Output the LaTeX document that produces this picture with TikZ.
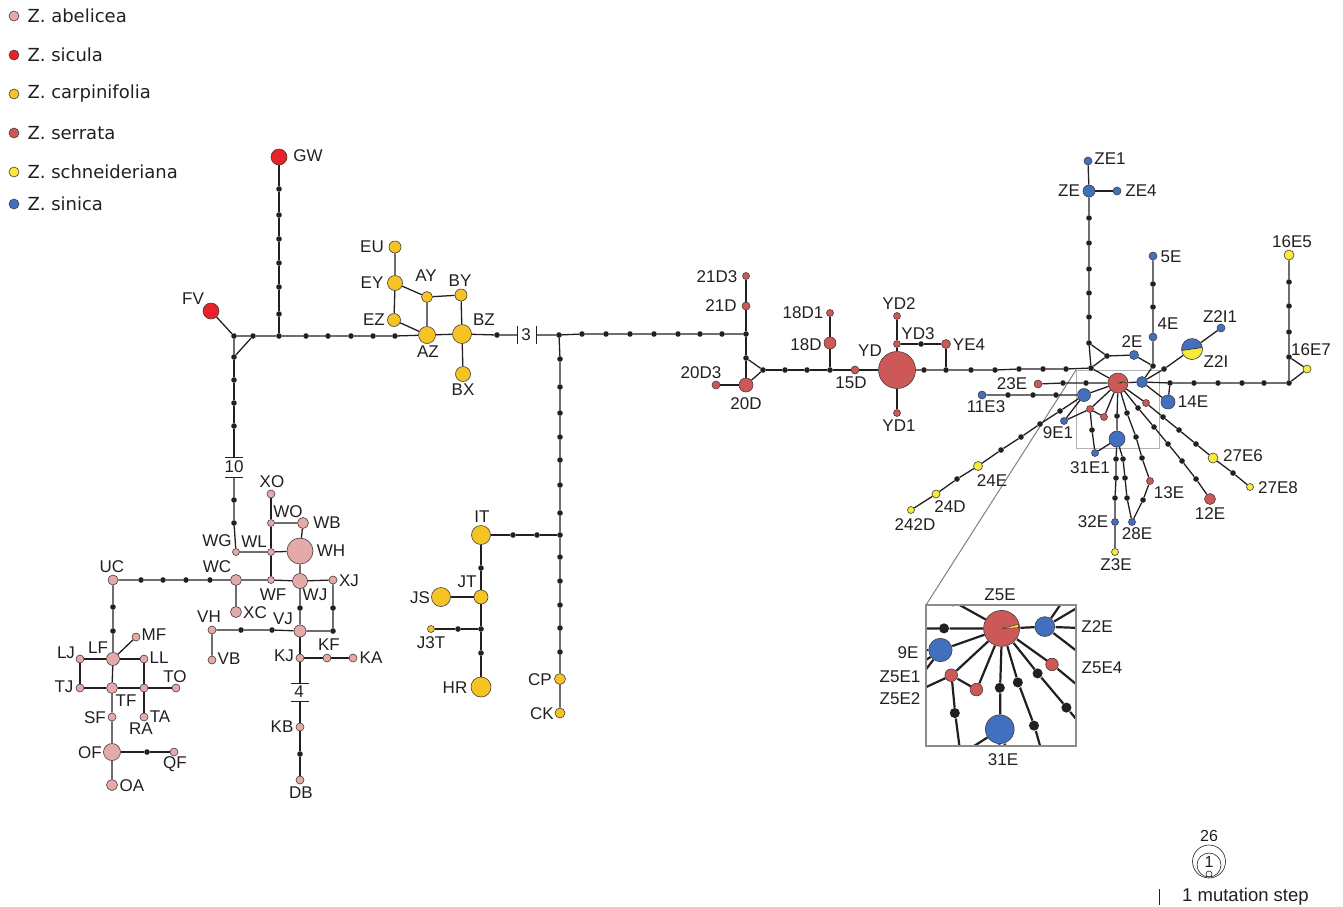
\documentclass[tikz,border=0pt]{standalone}
\usepackage{fontspec}
\setmainfont{Liberation Sans}
\newfontfamily\legendfont{DejaVu Sans}
\usetikzlibrary{positioning}

\definecolor{cabel}{RGB}{228,170,170}
\definecolor{csic}{RGB}{232,34,40}
\definecolor{ccarp}{RGB}{244,196,36}
\definecolor{cserr}{RGB}{205,88,88}
\definecolor{cschn}{RGB}{246,234,58}
\definecolor{csin}{RGB}{66,112,192}
\definecolor{linec}{RGB}{35,31,32}
\definecolor{bordc}{RGB}{70,60,60}

% star of Z. sinica / serrata haplotypes round Z5E (drawn twice: plain and in the zoom box)
\newcommand{\sinicastar}{%
  % knots above the star
  \node[mv] (q0) at (1091,368) {};
  \node[mv] (q1) at (1089,343) {};
  \node[mv] (q2) at (1107,356) {};
  \node[mv] (q3) at (1153,366) {};
  % ZE branch
  \node[mv] (z1) at (1089,317) {};
  \node[mv] (z2) at (1089,293) {};
  \node[mv] (z3) at (1089,269) {};
  \node[mv] (z4) at (1089,243) {};
  \node[mv] (z5) at (1089,218) {};
  \node[bl=12] (ZE) at (1089,191) {};
  \node[bl=8] (ZE1) at (1088,161) {};
  \node[bl=8] (ZE4) at (1117,191) {};
  % 2E, 4E, 5E
  \node[bl=9] (2E) at (1134,355) {};
  \node[bl=8] (4E) at (1153,337) {};
  \node[mv] (e1) at (1153,307) {};
  \node[mv] (e2) at (1153,284) {};
  \node[bl=8] (5E) at (1153,256) {};
  % centre
  \node[sr=20] (Z5E) at (1118,383) {};
  \node[bl=11] (Z2E) at (1142,382) {};
  \node[mv] (s1) at (1164,369) {};
  \node[hap=21, fill=csin, path picture={
      \fill[cschn] ([yshift=-1.5pt]path picture bounding box.west) -- ([yshift=1.5pt]path picture bounding box.east)
        -- (path picture bounding box.south east) -- (path picture bounding box.south west) -- cycle;
      \draw[linec, line width=0.6pt] ([yshift=-1.5pt]path picture bounding box.west) -- ([yshift=1.5pt]path picture bounding box.east);}] (Z2I) at (1192,349) {};
  \node[bl=8] (Z2I1) at (1221,328) {};
  % 14E and 16E
  \node[mv] (s2) at (1170,383) {};
  \node[bl=14] (14E) at (1168,402) {};
  \node[mv] (s3) at (1194,383) {};
  \node[mv] (s4) at (1218,383) {};
  \node[mv] (s5) at (1242,383) {};
  \node[mv] (s6) at (1264,383) {};
  \node[mv] (s7) at (1289,383) {};
  \node[mv] (s8) at (1289,357) {};
  \node[sc=8] (16E7) at (1307,369) {};
  \node[mv] (s9) at (1289,332) {};
  \node[mv] (s10) at (1289,306) {};
  \node[mv] (s11) at (1289,282) {};
  \node[sc=10] (16E5) at (1289,255) {};
  % 23E and 11E3
  \node[mv] (t1) at (1086,383) {};
  \node[mv] (t2) at (1063,383) {};
  \node[sr=8] (23E) at (1038,384) {};
  \node[bl=13] (9E) at (1084,395) {};
  \node[mv] (u1) at (1056,395) {};
  \node[mv] (u2) at (1033,395) {};
  \node[mv] (u3) at (1008,395) {};
  \node[bl=8] (11E3) at (982,395) {};
  \node[bl=7] (9E1) at (1064,421) {};
  % 24E branch
  \node[mv] (w1) at (1060,411) {};
  \node[mv] (w2) at (1040,424) {};
  \node[mv] (w3) at (1021,437) {};
  \node[mv] (w4) at (1001,450) {};
  \node[sc=9] (24E) at (978,466) {};
  \node[mv] (w5) at (957,479) {};
  \node[sc=8] (24D) at (936,494) {};
  \node[sc=7] (242D) at (911,510) {};
  % below the centre
  \node[sr=7] (Z5E1) at (1090,409) {};
  \node[sr=7] (Z5E2) at (1104,417) {};
  \node[mv] (x1) at (1092,430) {};
  \node[bl=7] (31E1) at (1095,453) {};
  \node[mv] (x2) at (1117,416) {};
  \node[bl=16] (31E) at (1117,439) {};
  \node[mv] (y1) at (1116,459) {};
  \node[mv] (y2) at (1116,478) {};
  \node[mv] (y3) at (1115,498) {};
  \node[bl=7] (32E) at (1115,522) {};
  \node[sc=7] (Z3E) at (1115,552) {};
  \node[mv] (y4) at (1123,459) {};
  \node[mv] (y5) at (1125,478) {};
  \node[mv] (y6) at (1127,498) {};
  \node[bl=7] (28E) at (1132,522) {};
  \node[mv] (k1) at (1127,413) {};
  \node[mv] (k2) at (1136,437) {};
  \node[mv] (k3) at (1142,458) {};
  \node[sr=7] (13E) at (1150,481) {};
  \node[mv] (k4) at (1143,500) {};
  \node[mv] (l1) at (1138,408) {};
  \node[mv] (l2) at (1154,427) {};
  \node[mv] (l3) at (1168,444) {};
  \node[mv] (l4) at (1182,461) {};
  \node[mv] (l5) at (1196,479) {};
  \node[sr=11] (12E) at (1210,499) {};
  \node[sr=7] (Z5E4) at (1146,403) {};
  \node[mv] (o1) at (1163,417) {};
  \node[mv] (o2) at (1179,430) {};
  \node[mv] (o3) at (1196,444) {};
  \node[sc=10] (27E6) at (1213,458) {};
  \node[mv] (o4) at (1233,473) {};
  \node[sc=7] (27E8) at (1250,487) {};
  % links
  \draw[link] (ZE1) -- (ZE) -- (z5) -- (z4) -- (z3) -- (z2) -- (z1) -- (q1) -- (q0);
  \draw[link] (ZE) -- (ZE4);
  \draw[link] (q1) -- (q2) -- (q0);
  \draw[link] (q2) -- (2E) -- (q3) -- (4E) -- (e1) -- (e2) -- (5E);
  \draw[link] (q3) -- (Z2E);
  \draw[link] (q0) -- (Z5E) -- (Z2E) -- (s1) -- (Z2I) -- (Z2I1);
  \draw[link] (Z2E) -- (s2) -- (s3) -- (s4) -- (s5) -- (s6) -- (s7) -- (s8) -- (s9) -- (s10) -- (s11) -- (16E5);
  \draw[link] (s8) -- (16E7) -- (s7);
  \draw[link] (s2) -- (14E) -- (Z2E);
  \draw[link] (Z5E) -- (t1) -- (t2) -- (23E);
  \draw[link] (Z5E) -- (9E) -- (u1) -- (u2) -- (u3) -- (11E3);
  \draw[link] (9E) -- (9E1) -- (Z5E1);
  \draw[link] (9E) -- (w1) -- (w2) -- (w3) -- (w4) -- (24E) -- (w5) -- (24D) -- (242D);
  \draw[link] (Z5E) -- (Z5E1) -- (Z5E2) -- (Z5E);
  \draw[link] (Z5E1) -- (x1) -- (31E1) -- (31E);
  \draw[link] (Z5E) -- (x2) -- (31E);
  \draw[link] (31E) -- (y1) -- (y2) -- (y3) -- (32E) -- (Z3E);
  \draw[link] (31E) -- (y4) -- (y5) -- (y6) -- (28E);
  \draw[link] (Z5E) -- (k1) -- (k2) -- (k3) -- (13E) -- (k4) -- (28E);
  \draw[link] (Z5E) -- (l1) -- (l2) -- (l3) -- (l4) -- (l5) -- (12E);
  \draw[link] (Z5E) -- (Z5E4) -- (o1) -- (o2) -- (o3) -- (27E6) -- (o4) -- (27E8);
  % the few Z. schneideriana sequences in Z5E
  \filldraw[fill=cschn, draw=linec, line width=0.4pt] (Z5E.center) -- +(-3:9.3) -- +(-14:9.3) -- cycle;
}

\begin{document}
\begin{tikzpicture}[x=1pt, y=-1pt,
    hap/.style={circle, draw=bordc, line width=0.6pt, inner sep=0pt, minimum size=#1pt},
    pk/.style={hap=#1, fill=cabel},
    rd/.style={hap=#1, fill=csic},
    yl/.style={hap=#1, fill=ccarp},
    sr/.style={hap=#1, fill=cserr},
    sc/.style={hap=#1, fill=cschn},
    bl/.style={hap=#1, fill=csin},
    mv/.style={circle, fill=linec, inner sep=0pt, minimum size=5.6pt},
    link/.style={draw=linec, line width=1.3pt},
    bar/.style={draw=linec, line width=1pt},
    lbl/.style={font=\fontsize{17}{17}\selectfont, text=linec, inner sep=0pt},
    small/.style={font=\fontsize{16}{16}\selectfont, text=linec, inner sep=0pt},
    legtxt/.style={font=\legendfont\fontsize{18}{18}\selectfont, text=linec, inner sep=0pt},
    zoombox/.style={draw=black!45, line width=1.1pt}]

    \useasboundingbox (0,0) rectangle (1343,906);

    % Legenda
    \node[pk=10] (lgA) at (14,16) {};
    \node[legtxt, right=8pt of lgA] (lgAt) {Z. abelicea};
    \node[rd=10] (lgB) at (14,55) {};
    \node[legtxt, right=8pt of lgB] (lgBt) {Z. sicula};
    \node[yl=10] (lgC) at (14,94) {};
    \node[legtxt, right=8pt of lgC] (lgCt) {Z. carpinifolia};
    \node[sr=10] (lgD) at (14,133) {};
    \node[legtxt, right=8pt of lgD] (lgDt) {Z. serrata};
    \node[sc=10] (lgE) at (14,172) {};
    \node[legtxt, right=8pt of lgE] (lgEt) {Z. schneideriana};
    \node[bl=10] (lgF) at (14,204) {};
    \node[legtxt, right=8pt of lgF] (lgFt) {Z. sinica};

    % Zoom box behind the star
    \coordinate (zsA) at (1076,370);
    \coordinate (zsB) at (1159.3,448.3);
    \coordinate (zbA) at (926,605);
    \coordinate (zbB) at (1076,746);
    \draw[draw=black!30, line width=0.8pt] (zsA) rectangle (zsB);
    \draw[draw=black!50, line width=1pt] (zsA) -- (zbA);

    % Z. sicula
    \node[rd=16] (GW) at (279,157) {};
    \node[rd=16] (FV) at (211,311) {};
    \node[mv] (m1) at (234,336) {};
    \node[mv] (m2) at (253,336) {};
    \node[mv] (m3) at (234,357) {};
    \node[mv] (g1) at (279,189) {};
    \node[mv] (g2) at (279,215) {};
    \node[mv] (g3) at (279,239) {};
    \node[mv] (g4) at (279,263) {};
    \node[mv] (g5) at (279,287) {};
    \node[mv] (g6) at (279,314) {};
    \node[mv] (j0) at (279,336) {};
    \node[mv] (h1) at (306,336) {};
    \node[mv] (h2) at (328,336) {};
    \node[mv] (h3) at (351,336) {};
    \node[mv] (h4) at (373,336) {};
    \node[mv] (h5) at (395,336) {};

    % Z. carpinifolia
    \node[yl=12] (EU) at (395,247) {};
    \node[yl=15] (EY) at (395,283) {};
    \node[yl=13] (EZ) at (394,320) {};
    \node[yl=11] (AY) at (427,297) {};
    \node[yl=12] (BY) at (461,295) {};
    \node[yl=17] (AZ) at (427,335) {};
    \node[yl=19] (BZ) at (462,334) {};
    \node[yl=15] (BX) at (463,374) {};
    \node[mv] (b1) at (497,335) {};
    \coordinate (m3a) at (517,335);
    \coordinate (m3b) at (536,335);
    \node[mv] (J1) at (559,335) {};
    \node[mv] (r1) at (582,334) {};
    \node[mv] (r2) at (606,334) {};
    \node[mv] (r3) at (630,334) {};
    \node[mv] (r4) at (654,334) {};
    \node[mv] (r5) at (678,334) {};
    \node[mv] (r6) at (700,334) {};
    \node[mv] (r7) at (722,334) {};
    \node[mv] (J2) at (746,334) {};
    \node[mv] (d1) at (560,359) {};
    \node[mv] (d2) at (560,387) {};
    \node[mv] (d3) at (560,413) {};
    \node[mv] (d4) at (560,437) {};
    \node[mv] (d5) at (560,460) {};
    \node[mv] (d6) at (560,485) {};
    \node[mv] (d7) at (560,513) {};
    \node[mv] (J3) at (560,535) {};
    \node[mv] (d8) at (560,557) {};
    \node[mv] (d9) at (560,581) {};
    \node[mv] (d10) at (560,605) {};
    \node[mv] (d11) at (560,628) {};
    \node[mv] (d12) at (560,652) {};
    \node[yl=11] (CP) at (560,679) {};
    \node[yl=10] (CK) at (560,713) {};
    \node[mv] (i1) at (537,535) {};
    \node[mv] (i2) at (513,535) {};
    \node[yl=19] (IT) at (481,535) {};
    \node[mv] (i3) at (481,568) {};
    \node[yl=14] (JT) at (481,597) {};
    \node[yl=19] (JS) at (441,597) {};
    \node[mv] (i4) at (481,629) {};
    \node[mv] (i5) at (481,653) {};
    \node[yl=20] (HR) at (481,687) {};
    \node[mv] (i6) at (458,629) {};
    \node[yl=7] (J3T) at (431,629) {};

    % Z. abelicea
    \node[mv] (v1) at (234,380) {};
    \node[mv] (v2) at (234,403) {};
    \node[mv] (v3) at (234,426) {};
    \coordinate (m10a) at (234,457);
    \coordinate (m10b) at (234,477);
    \node[mv] (v4) at (234,500) {};
    \node[mv] (v5) at (234,523) {};
    \node[pk=7] (WG) at (236,552) {};
    \node[pk=7] (WL) at (271,552) {};
    \node[pk=7] (WO) at (271,523) {};
    \node[pk=8] (XO) at (271,494) {};
    \node[pk=11] (WB) at (303,523) {};
    \node[pk=26] (WH) at (300,551) {};
    \node[pk=11] (WC) at (236,580) {};
    \node[pk=7] (WF) at (271,580) {};
    \node[pk=15] (WJ) at (300,581) {};
    \node[pk=8] (XJ) at (333,580) {};
    \node[mv] (p1) at (333,608) {};
    \node[mv] (p2) at (333,631) {};
    \node[mv] (p3) at (300,608) {};
    \node[pk=12] (VJ) at (300,631) {};
    \node[mv] (p4) at (272,630) {};
    \node[mv] (p5) at (241,630) {};
    \node[pk=8] (VH) at (212,630) {};
    \node[pk=8] (VB) at (212,660) {};
    \node[pk=11] (XC) at (236,612) {};
    \node[mv] (c1) at (210,580) {};
    \node[mv] (c2) at (186,580) {};
    \node[mv] (c3) at (163,580) {};
    \node[mv] (c4) at (141,580) {};
    \node[pk=10] (UC) at (113,580) {};
    \node[mv] (c5) at (113,607) {};
    \node[mv] (c6) at (113,631) {};
    \node[pk=13] (LF) at (113,659) {};
    \node[pk=8] (MF) at (136,637) {};
    \node[pk=8] (LJ) at (80,659) {};
    \node[pk=8] (LL) at (144,659) {};
    \node[pk=8] (TJ) at (80,688) {};
    \node[pk=11] (TF) at (112,688) {};
    \node[pk=8] (TR) at (144,688) {};
    \node[pk=8] (TO) at (176,688) {};
    \node[pk=8] (TA) at (144,717) {};
    \node[pk=8] (SF) at (112,717) {};
    \node[pk=17] (OF) at (112,752) {};
    \node[mv] (c7) at (147,752) {};
    \node[pk=8] (QF) at (174,752) {};
    \node[pk=11] (OA) at (112,785) {};
    \node[pk=8] (KJ) at (300,658) {};
    \node[pk=8] (KF) at (327,658) {};
    \node[pk=8] (KA) at (353,658) {};
    \coordinate (m4a) at (300,683);
    \coordinate (m4b) at (300,701);
    \node[pk=8] (KB) at (300,727) {};
    \node[mv] (c8) at (300,754) {};
    \node[pk=8] (DB) at (300,780) {};

    % Z. serrata
    \node[sr=8] (21D) at (746,306) {};
    \node[sr=7] (21D3) at (746,276) {};
    \node[mv] (n1) at (746,358) {};
    \node[mv] (n2) at (763,370) {};
    \node[sr=14] (20D) at (746,385) {};
    \node[sr=8] (20D3) at (716,385) {};
    \node[mv] (n3) at (785,370) {};
    \node[mv] (n4) at (807,370) {};
    \node[mv] (n5) at (830,370) {};
    \node[sr=12] (18D) at (830,343) {};
    \node[sr=7] (18D1) at (830,313) {};
    \node[sr=8] (15D) at (855,370) {};
    \node[sr=37] (YD) at (897,370) {};
    \node[sr=7] (YD1) at (897,413) {};
    \node[sr=7] (YD3) at (897,344) {};
    \node[sr=7] (YD2) at (897,316) {};
    \node[mv] (n6) at (921,344) {};
    \node[sr=9] (YE4) at (946,344) {};
    \node[mv] (n7) at (924,370) {};
    \node[mv] (n8) at (946,370) {};
    \node[mv] (n9) at (971,370) {};
    \node[mv] (n10) at (995,370) {};
    \node[mv] (n11) at (1019,369) {};
    \node[mv] (n12) at (1043,369) {};
    \node[mv] (n13) at (1066,369) {};

    % Links left part
    \draw[link] (GW) -- (g1) -- (g2) -- (g3) -- (g4) -- (g5) -- (g6) -- (j0);
    \draw[link] (FV) -- (m1) -- (m2) -- (j0) -- (h1) -- (h2) -- (h3) -- (h4) -- (h5) -- (AZ);
    \draw[link] (m2) -- (m3) -- (m1);
    \draw[link] (EU) -- (EY) -- (EZ) -- (AZ) -- (BZ) -- (BX);
    \draw[link] (EY) -- (AY) -- (AZ);
    \draw[link] (AY) -- (BY) -- (BZ);
    \draw[link] (BZ) -- (b1) -- (m3a);
    \draw[link] (m3b) -- (J1) -- (r1) -- (r2) -- (r3) -- (r4) -- (r5) -- (r6) -- (r7) -- (J2);
    \draw[bar] ([yshift=9pt]m3a) -- ([yshift=-9pt]m3a);
    \draw[bar] ([yshift=9pt]m3b) -- ([yshift=-9pt]m3b);
    \draw[link] (J1) -- (d1) -- (d2) -- (d3) -- (d4) -- (d5) -- (d6) -- (d7) -- (J3)
        -- (d8) -- (d9) -- (d10) -- (d11) -- (d12) -- (CP) -- (CK);
    \draw[link] (J3) -- (i1) -- (i2) -- (IT) -- (i3) -- (JT) -- (i4) -- (i5) -- (HR);
    \draw[link] (JT) -- (JS);
    \draw[link] (i4) -- (i6) -- (J3T);

    \draw[link] (m3) -- (v1) -- (v2) -- (v3) -- (m10a);
    \draw[bar] ([xshift=-9pt]m10a) -- ([xshift=9pt]m10a);
    \draw[bar] ([xshift=-9pt]m10b) -- ([xshift=9pt]m10b);
    \draw[link] (m10b) -- (v4) -- (v5) -- (WG) -- (WL) -- (WH) -- (WJ) -- (XJ) -- (p1) -- (p2) -- (VJ);
    \draw[link] (WL) -- (WO) -- (XO);
    \draw[link] (WO) -- (WB) -- (WH);
    \draw[link] (WL) -- (WF);
    \draw[link] (XC) -- (WC) -- (WF) -- (WJ) -- (p3) -- (VJ) -- (p4) -- (p5) -- (VH) -- (VB);
    \draw[link] (WC) -- (c1) -- (c2) -- (c3) -- (c4) -- (UC) -- (c5) -- (c6) -- (LF) -- (TF) -- (SF) -- (OF) -- (OA);
    \draw[link] (LF) -- (MF);
    \draw[link] (LJ) -- (LF) -- (LL) -- (TR) -- (TA);
    \draw[link] (LJ) -- (TJ) -- (TF) -- (TR) -- (TO);
    \draw[link] (OF) -- (c7) -- (QF);
    \draw[link] (VJ) -- (KJ) -- (KF) -- (KA);
    \draw[link] (KJ) -- (m4a);
    \draw[bar] ([xshift=-9pt]m4a) -- ([xshift=9pt]m4a);
    \draw[bar] ([xshift=-9pt]m4b) -- ([xshift=9pt]m4b);
    \draw[link] (m4b) -- (KB) -- (c8) -- (DB);

    % Links middle part
    \draw[link] (21D3) -- (21D) -- (J2) -- (n1) -- (20D) -- (20D3);
    \draw[link] (n1) -- (n2) -- (20D);
    \draw[link] (n2) -- (n3) -- (n4) -- (n5) -- (15D) -- (YD);
    \draw[link] (n5) -- (18D) -- (18D1);
    \draw[link] (YD1) -- (YD) -- (YD3) -- (YD2);
    \draw[link] (YD3) -- (n6) -- (YE4) -- (n8);
    \draw[link] (YD) -- (n7) -- (n8) -- (n9) -- (n10) -- (n11) -- (n12) -- (n13);

    % Right part
    \sinicastar
    \draw[link] (n13) -- (q0);

    % Zoom on Z5E
    \begin{scope}[shift={(926,605)}, scale=1.8, shift={(-1076,-370)}, transform shape,
        link/.style={draw=linec, line width=2.2pt}]
        \clip (1076,370) rectangle (1159.3,448.3);
        \sinicastar
    \end{scope}
    \draw[zoombox] (zbA) rectangle (zbB);

    % Labels
    \node[lbl] (tGW) at (308,156) {GW};
    \node[lbl] (tFV) at (193,299) {FV};
    \node[lbl] (tEU) at (372,247) {EU};
    \node[lbl] (tEY) at (372,283) {EY};
    \node[lbl] (tAY) at (426,276) {AY};
    \node[lbl] (tBY) at (460,281) {BY};
    \node[lbl] (tEZ) at (374,320) {EZ};
    \node[lbl] (tAZ) at (428,352) {AZ};
    \node[lbl] (tBZ) at (484,320) {BZ};
    \node[lbl] (tBX) at (463,390) {BX};
    \node[lbl] (t3) at (526,335) {3};
    \node[lbl] (tIT) at (482,517) {IT};
    \node[lbl] (tJT) at (467,582) {JT};
    \node[lbl] (tJS) at (420,598) {JS};
    \node[lbl] (tJ3T) at (431,643) {J3T};
    \node[lbl] (tHR) at (455,688) {HR};
    \node[lbl] (tCP) at (540,680) {CP};
    \node[lbl] (tCK) at (542,714) {CK};

    \node[lbl] (t10) at (234,467) {10};
    \node[lbl] (tXO) at (272,482) {XO};
    \node[lbl] (tWO) at (288,512) {WO};
    \node[lbl] (tWB) at (327,523) {WB};
    \node[lbl] (tWG) at (217,541) {WG};
    \node[lbl] (tWL) at (254,542) {WL};
    \node[lbl] (tWH) at (331,551) {WH};
    \node[lbl] (tWC) at (217,567) {WC};
    \node[lbl] (tWF) at (273,595) {WF};
    \node[lbl] (tWJ) at (315,595) {WJ};
    \node[lbl] (tXJ) at (349,581) {XJ};
    \node[lbl] (tXC) at (255,613) {XC};
    \node[lbl] (tVH) at (209,617) {VH};
    \node[lbl] (tVJ) at (283,619) {VJ};
    \node[lbl] (tVB) at (229,659) {VB};
    \node[lbl] (tKJ) at (284,656) {KJ};
    \node[lbl] (tKF) at (329,645) {KF};
    \node[lbl] (tKA) at (371,658) {KA};
    \node[lbl] (t4) at (299,692) {4};
    \node[lbl] (tKB) at (282,727) {KB};
    \node[lbl] (tDB) at (301,793) {DB};
    \node[lbl] (tUC) at (112,567) {UC};
    \node[lbl] (tMF) at (154,635) {MF};
    \node[lbl] (tLF) at (98,648) {LF};
    \node[lbl] (tLJ) at (66,653) {LJ};
    \node[lbl] (tLL) at (159,658) {LL};
    \node[lbl] (tTJ) at (64,687) {TJ};
    \node[lbl] (tTO) at (175,677) {TO};
    \node[lbl] (tTF) at (126,701) {TF};
    \node[lbl] (tTA) at (160,717) {TA};
    \node[lbl] (tRA) at (141,729) {RA};
    \node[lbl] (tSF) at (95,718) {SF};
    \node[lbl] (tOF) at (90,753) {OF};
    \node[lbl] (tQF) at (175,764) {QF};
    \node[lbl] (tOA) at (132,786) {OA};

    \node[lbl] (t21D3) at (717,277) {21D3};
    \node[lbl] (t21D) at (721,306) {21D};
    \node[lbl] (t18D1) at (803,313) {18D1};
    \node[lbl] (t18D) at (806,345) {18D};
    \node[lbl] (t20D3) at (701,373) {20D3};
    \node[lbl] (t20D) at (746,404) {20D};
    \node[lbl] (t15D) at (851,383) {15D};
    \node[lbl] (tYD) at (870,351) {YD};
    \node[lbl] (tYD2) at (899,304) {YD2};
    \node[lbl] (tYD3) at (918,334) {YD3};
    \node[lbl] (tYE4) at (969,345) {YE4};
    \node[lbl] (tYD1) at (899,426) {YD1};

    \node[lbl] (tZE1) at (1110,159) {ZE1};
    \node[lbl] (tZE) at (1069,191) {ZE};
    \node[lbl] (tZE4) at (1141,191) {ZE4};
    \node[lbl] (t5E) at (1171,257) {5E};
    \node[lbl] (t4E) at (1168,324) {4E};
    \node[lbl] (t2E) at (1132,342) {2E};
    \node[lbl] (tZ2I1) at (1220,317) {Z2I1};
    \node[lbl] (tZ2I) at (1216,362) {Z2I};
    \node[lbl] (t16E5) at (1292,242) {16E5};
    \node[lbl] (t16E7) at (1311,350) {16E7};
    \node[lbl] (t23E) at (1012,384) {23E};
    \node[lbl] (t14E) at (1193,402) {14E};
    \node[lbl] (t11E3) at (986,407) {11E3};
    \node[lbl] (t9E1) at (1058,433) {9E1};
    \node[lbl] (t31E1) at (1090,468) {31E1};
    \node[lbl] (t24E) at (992,481) {24E};
    \node[lbl] (t24D) at (950,507) {24D};
    \node[lbl] (t242D) at (915,525) {242D};
    \node[lbl] (t27E6) at (1243,456) {27E6};
    \node[lbl] (t27E8) at (1278,488) {27E8};
    \node[lbl] (t13E) at (1169,493) {13E};
    \node[lbl] (t12E) at (1210,514) {12E};
    \node[lbl] (t32E) at (1093,522) {32E};
    \node[lbl] (t28E) at (1137,534) {28E};
    \node[lbl] (tZ3E) at (1116,565) {Z3E};

    % Labels of the zoom
    \node[lbl] (tiZ5E) at (1000,595) {Z5E};
    \node[lbl] (tiZ2E) at (1097,627) {Z2E};
    \node[lbl] (ti9E) at (908,653) {9E};
    \node[lbl] (tiZ5E1) at (900,677) {Z5E1};
    \node[lbl] (tiZ5E2) at (900,699) {Z5E2};
    \node[lbl] (tiZ5E4) at (1102,668) {Z5E4};
    \node[lbl] (ti31E) at (1003,760) {31E};

    % Scale
    \node[circle, draw=linec, line width=0.6pt, inner sep=0pt, minimum size=33pt] (sc26) at (1209,861.5) {};
    \node[circle, draw=linec, line width=0.6pt, inner sep=0pt, minimum size=24pt] (sc1) at (1209,865) {};
    \node[circle, draw=linec, line width=0.6pt, inner sep=0pt, minimum size=6pt] (sc0) at (1209,874) {};
    \node[small] (t26) at (1209,836) {26};
    \node[small] (tone) at (1209,862) {1};
    \coordinate (stepA) at (1159,889);
    \coordinate (stepB) at (1159,905);
    \draw[bar] (stepA) -- (stepB);
    \node[lbl, anchor=west, font=\fontsize{18.5}{18.5}\selectfont] (tstep) at (1182,897) {1 mutation step};

\end{tikzpicture}
\end{document}
